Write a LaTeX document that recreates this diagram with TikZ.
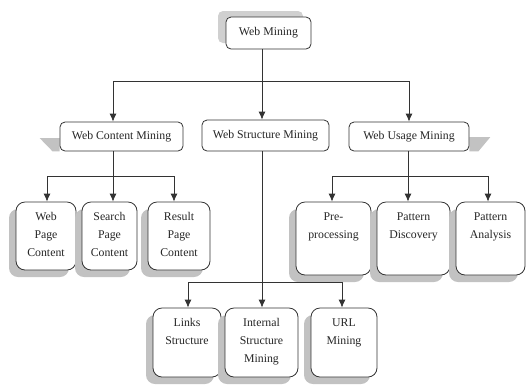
\documentclass[tikz,border=0pt]{standalone}
\usepackage{fontspec}
\setmainfont{Liberation Serif}
\usetikzlibrary{arrows.meta,calc,shadows,backgrounds}
\definecolor{edge}{HTML}{333333}
\definecolor{shd}{HTML}{C2C2C2}
\definecolor{shdl}{HTML}{D0D0D0}
\begin{document}
\begin{tikzpicture}[x=1pt,y=-1pt,
  font=\fontsize{11.8}{18}\selectfont,
  lvl/.style={draw=edge, line width=0.8pt, rounded corners=5pt, fill=white, inner sep=0pt, text=black!85},
  leaf/.style={draw=edge, line width=0.8pt, rounded corners=9pt, fill=white, inner sep=0pt,
     drop shadow={shadow xshift=-7pt, shadow yshift=-7pt, fill=shd, opacity=1}},
  ttl/.style={anchor=north, align=center, inner sep=0pt, text=black!85},
  conn/.style={draw=black!80, line width=0.8pt},
  arr/.style={conn, -{Latex[length=8pt,width=7pt]}}]
\useasboundingbox (0,0) rectangle (527,384);

% top
\node[lvl, minimum width=85pt, minimum height=32pt,
  drop shadow={shadow xshift=-8pt, shadow yshift=6pt, fill=shdl, opacity=1}] (wm) at (268.5,33) {Web Mining};

% level 2
\node[lvl, minimum width=123pt, minimum height=29pt] (wcm) at (121.5,136.5) {Web Content Mining};
\node[lvl, minimum width=127pt, minimum height=31pt] (wsm) at (265.5,135.5) {Web Structure Mining};
\node[lvl, minimum width=120pt, minimum height=29pt] (wum) at (409,136.5) {Web Usage Mining};

\begin{pgfonlayer}{background}
\fill[shd] ($(wcm.west)+(-20,1.5)$) -- ($(wcm.west)+(0,1.5)$) -- (wcm.south west) -- ($(wcm.south west)+(-7,0)$) -- cycle;
\fill[shd] ($(wum.east)+(21,0.5)$) -- ($(wum.east)+(0,0.5)$) -- (wum.south east) -- ($(wum.south east)+(9,0)$) -- cycle;
\end{pgfonlayer}

% content leaves
\node[leaf, minimum width=60pt, minimum height=68pt] (wpc) at (46,236) {};
\node[ttl] (wpct) at ([yshift=-11pt]wpc.north) {Web\\Page\\Content};
\node[leaf, minimum width=55pt, minimum height=68pt] (spc) at (109.5,236) {};
\node[ttl] (spct) at ([yshift=-11pt]spc.north) {Search\\Page\\Content};
\node[leaf, minimum width=62pt, minimum height=68pt] (rpc) at (179,236) {};
\node[ttl] (rpct) at ([yshift=-11pt]rpc.north) {Result\\Page\\Content};

% usage leaves
\node[leaf, minimum width=75pt, minimum height=73pt] (pp) at (333.5,238.5) {};
\node[ttl] (ppt) at ([yshift=-11pt]pp.north) {Pre-\\processing};
\node[leaf, minimum width=73pt, minimum height=73pt] (pd) at (413.5,238.5) {};
\node[ttl] (pdt) at ([yshift=-11pt]pd.north) {Pattern\\Discovery};
\node[leaf, minimum width=69pt, minimum height=73pt] (pa) at (490.5,238.5) {};
\node[ttl] (pat) at ([yshift=-11pt]pa.north) {Pattern\\Analysis};

% structure leaves
\node[leaf, minimum width=68pt, minimum height=69pt] (ls) at (187,342.5) {};
\node[ttl] (lst) at ([yshift=-11pt]ls.north) {Links\\Structure};
\node[leaf, minimum width=73pt, minimum height=69pt] (ism) at (261.5,342.5) {};
\node[ttl] (ismt) at ([yshift=-11pt]ism.north) {Internal\\Structure\\Mining};
\node[leaf, minimum width=66pt, minimum height=69pt] (url) at (344,342.5) {};
\node[ttl] (urlt) at ([yshift=-11pt]url.north) {URL\\Mining};

% connectors: top
\draw[conn] ([xshift=-6.5pt]wm.south) -- ++(0,32) coordinate (h0);
\draw[arr] (h0) -| ([xshift=-8.5pt]wcm.north);
\draw[arr] (h0) -- (h0 |- wsm.north);
\draw[arr] (h0) -| (wum.north);

% content
\draw[conn] ([xshift=-8.5pt]wcm.south) -- ++(0,25) coordinate (h1);
\draw[arr] (h1) -| ([xshift=1pt]wpc.north);
\draw[arr] (h1) -- (h1 |- spc.north);
\draw[arr] (h1) -| ([xshift=-5pt]rpc.north);

% usage
\draw[conn] ([xshift=-1pt]wum.south) -- ++(0,25) coordinate (h2);
\draw[arr] (h2) -| ([xshift=-1.5pt]pp.north);
\draw[arr] (h2) -- (h2 |- pd.north);
\draw[arr] (h2) -| ([xshift=-2.5pt]pa.north);

% structure
\draw[conn] ([xshift=-3.5pt]wsm.south) -- ++(0,131) coordinate (h3);
\draw[arr] (h3) -| ([xshift=1pt]ls.north);
\draw[arr] (h3) -- (h3 |- ism.north);
\draw[arr] (h3) -| ([xshift=-2pt]url.north);
\end{tikzpicture}
\end{document}
